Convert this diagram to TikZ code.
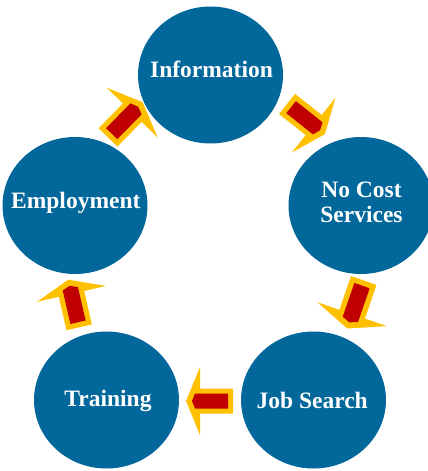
\documentclass[tikz,border=0pt]{standalone}
\usepackage{fontspec}
\setmainfont{Liberation Serif}
\usetikzlibrary{shapes.geometric}
\definecolor{cycblue}{RGB}{2,103,154}
\definecolor{arrowgold}{RGB}{255,192,0}
\definecolor{arrowred}{RGB}{192,0,0}
\tikzset{
  bubble/.style={ellipse, fill=cycblue, minimum width=145pt, minimum height=137pt, inner sep=0pt},
  bubbletext/.style={text=white, font=\bfseries\fontsize{23.5}{24.5}\selectfont, align=center, inner sep=0pt},
  cyclearrow/.pic={
    \fill[arrowgold] (23.5,0) -- (9.5,34) -- (9.5,12.5) -- (-23.5,12.5) -- (-23.5,-12.5) -- (9.5,-12.5) -- (9.5,-34) -- cycle;
    \fill[arrowred] (17.5,0) -- (14.5,7.5) -- (-18.5,7.5) -- (-18.5,-7.5) -- (14.5,-7.5) -- cycle;
  }
}
\begin{document}
\begin{tikzpicture}[x=1pt,y=-1pt]
\useasboundingbox (0,0) rectangle (428,471);
\begin{scope}
\clip (0,0) rectangle (428,471);
% circles
\node[bubble] (info) at (210.5,75) {};
\node[bubble] (nocost) at (361,205.5) {};
\node[bubble] (employ) at (75,205.5) {};
\node[bubble] (training) at (106.5,400) {};
\node[bubble] (jobsearch) at (313.5,400) {};
\end{scope}
% texts
\node[bubbletext] (infot) at (211.5,69) {Information};
\node[bubbletext] (nocostt) at (361.5,202.5) {No Cost\\Services};
\node[bubbletext] (employt) at (75.8,202.5) {Employment};
\node[bubbletext] (trainingt) at (108,401.3) {Training};
\node[bubbletext] (jobsearcht) at (312.2,400.8) {Job Search};
% arrows
\coordinate (arrA) at (306,119);
\coordinate (arrB) at (355.5,304.5);
\coordinate (arrC) at (209.5,401);
\coordinate (arrD) at (73.7,303.5);
\coordinate (arrE) at (125.3,119.8);
\pic[rotate=-38.5, scale=1.03] at (arrA) {cyclearrow};
\pic[rotate=-109, scale=1.08] at (arrB) {cyclearrow};
\pic[rotate=180] at (arrC) {cyclearrow};
\pic[rotate=103, scale=1.04] at (arrD) {cyclearrow};
\pic[rotate=45.6, scale=1.05] at (arrE) {cyclearrow};
\end{tikzpicture}
\end{document}
